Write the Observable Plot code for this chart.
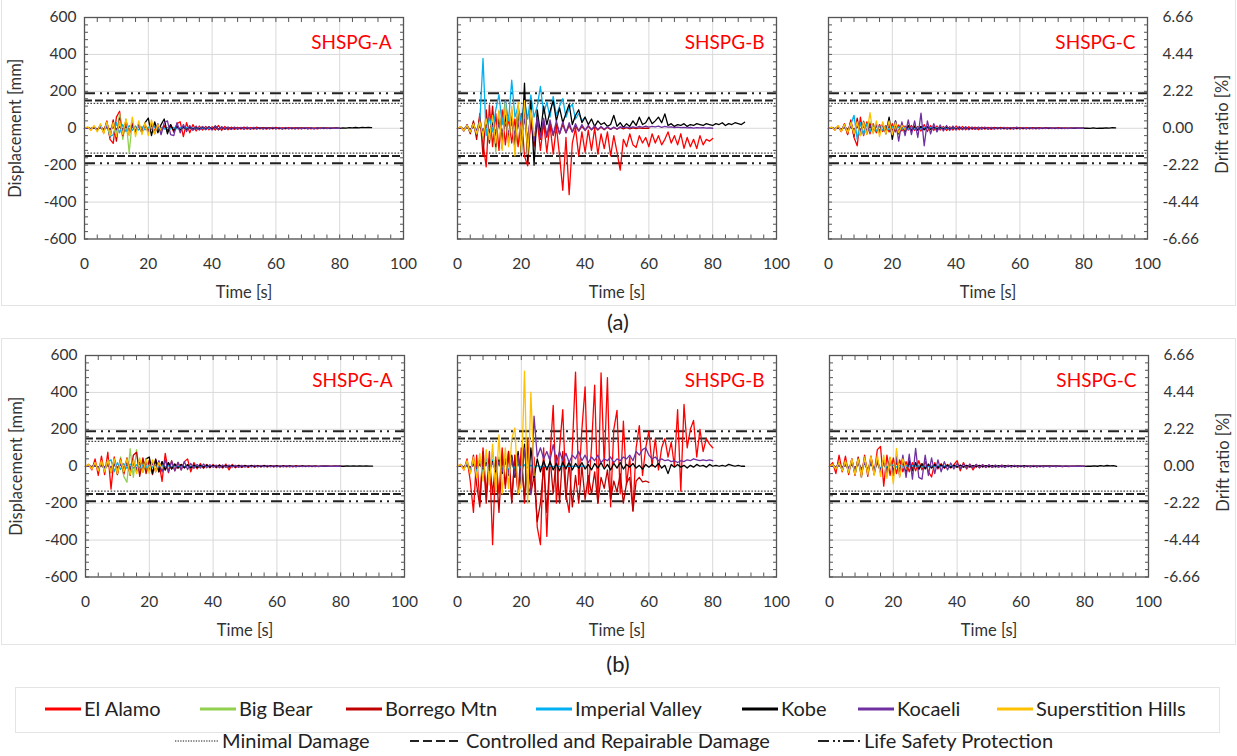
<!DOCTYPE html>
<html><head><meta charset="utf-8">
<script src="https://cdn.jsdelivr.net/npm/d3@7"></script>
<script src="https://cdn.jsdelivr.net/npm/@observablehq/plot@0.6"></script>
<style>
body{margin:0;background:#fff;}
#root{position:relative;width:1237px;height:756px;overflow:hidden;background:#fff;font-family:Lato,sans-serif;}
.pnl{position:absolute;}
.box{position:absolute;border:1px solid #e4e4e4;box-sizing:border-box;}
.cap{position:absolute;font-size:22px;color:#222;transform:translate(-50%,-50%);}
</style></head><body><div id="root"></div>
<script>
// ---------- data ----------
const earthquakes = ["El Alamo","Big Bear","Borrego Mtn","Imperial Valley","Kobe","Kocaeli","Superstition Hills"];
const eqColors = ["#FF0000","#92D050","#C00000","#00B0F0","#000000","#7030A0","#FFC000"];
const timeStep = 1; // s between samples
const xTicks = [0,20,40,60,80,100];
const yTicks = [-600,-400,-200,0,200,400,600];
const driftTickLabels = ["-6.66","-4.44","-2.22","0.00","2.22","4.44","6.66"];
const limitNames = ["Minimal Damage","Controlled and Repairable Damage","Life Safety Protection"];
const limitValues = [135,150,190];
const panelNames = ["SHSPG-A","SHSPG-B","SHSPG-C"];

// Row (a), SHSPG-A
const a_A_ElAlamo = [0,4,-8,10,-12,18,-25,40,-60,-82,60,92,-50,45,-35,30,-25,20,-22,18,-15,14,-12,10,-12,15,-18,20,-22,25,35,-45,30,-25,20,-15,12,-10,10,-8,8,-10,15,-12,10,-8,6,-6,5,-5,6,-5,4,-5,6,-4,4,-5,3,-4,5,-4,3,-3,4,-3,3,-4,3,-2,3,-3,2,-3,2,-2,2,-2,2,-1,0];
const a_A_BigBear = [0,3,-6,8,-10,15,-20,30,-45,40,-35,80,-60,50,-133,40,-30,25,-15,10,-5];
const a_A_Borrego = [0,3,-5,8,-12,15,-20,35,-50,45,-70,55,-40,35,-30,25,-20,18,-15,12,-10,15,-20,18,-15,12,-10,10,-12,10,-8,8,-6,7,-6,5,-5,6,-4,4,-4,3,-3,4,-3,3,-2,3,-2,2,-2,2,-2,2,-1,1,-1,1,-1,1,0];
const a_A_Imperial = [0,2,-4,6,-8,10,-15,20,-45,-35,30,-25,20,-18,15,-12,12,-10,8,-8,6,-6,8,-6,5,-5,4,-4,5,-4,3,-3,3,-2,2,-2,2,-1,1,-1,0];
const a_A_Kobe = [0,1,-2,2,-3,3,-4,5,-5,6,-6,8,-8,10,-10,12,-15,20,-25,30,55,-40,35,-25,20,50,-30,20,-15,12,-10,8,-8,6,-6,5,-5,6,-5,8,-6,12,-8,6,-5,5,-4,4,-4,3,-3,4,-3,3,-3,3,-2,3,-2,2,-2,2,-3,2,-2,2,-2,3,-2,2,-2,2,-2,2,-1,2,-1,1,-1,2,-1,2,1,3,2,4,2,5,3,4,3];
const a_A_Kocaeli = [0,1,-2,3,-3,4,-5,6,-6,8,-8,10,-10,12,-12,10,-10,12,-15,15,-20,25,-30,25,-35,30,40,-35,-40,30,-25,20,-18,15,-12,12,-10,10,-8,8,-10,12,-8,8,-6,6,-7,6,-5,5,-5,6,-5,5,-4,4,-5,4,-4,5,-4,4,-3,4,-3,3,-4,3,-3,3,-3,2,-3,2,-2,2,-2,2,-1,1,0];
const a_A_Superstition = [0,8,-12,15,-20,25,-30,35,-40,30,-45,40,-35,50,-40,60,-45,40,-35,30,-40,45,-30,20,-10];

// Row (a), SHSPG-B
const a_B_ElAlamo = [0,5,-10,15,-20,30,-40,60,-80,-209,127,-100,80,-120,100,-90,60,-80,50,-100,80,-150,-204,50,-100,40,-120,30,-130,20,-140,10,-150,-336,-50,-360,-80,0,-150,-20,-130,-10,-120,0,-140,-30,-110,-20,-150,-40,-130,-227,-60,-100,-30,-90,-104,-40,-80,-50,-100,-30,-80,-40,-90,-60,-20,-80,-40,-90,-30,-109,-50,-100,-60,-110,-40,-90,-60,-70,-55];
const a_B_BigBear = [0,5,-10,15,-20,30,-40,50,-60,70,-80,60,-127,80,-70,60,-50,40,-30,20,-10];
const a_B_Borrego = [0,8,-15,20,-30,40,-60,80,-150,100,-80,120,-100,90,-110,150,-80,100,-120,80,-100,120,-150,60,-80,50,-60,40,-50,30,-40,25,-30,20,-25,15,-20,12,-15,10,-12,10,-8,8,-10,6,-8,5,-6,4,-5,4,-3,3,-3,2,-2,2,-1,1,0];
const a_B_Imperial = [0,5,-10,15,-20,20,-30,40,378,-40,60,-20,100,182,20,150,40,260,60,120,30,150,50,180,60,120,227,80,140,60,173,70,120,160,60,110,130,50,80,40,60];
const a_B_Kobe = [0,2,-3,5,-5,8,-10,12,-15,20,-25,30,-40,50,-60,70,-60,80,-100,120,-150,245,-182,150,-200,100,-30,120,20,90,150,40,110,30,80,130,20,70,100,30,60,20,50,10,40,20,30,10,20,70,10,30,5,25,10,40,15,60,20,30,60,25,40,60,30,78,15,25,10,20,15,25,10,20,15,25,20,15,25,20,15,25,20,30,15,25,20,30,25,20,33];
const a_B_Kocaeli = [0,2,-3,4,-5,6,-8,10,-10,12,-12,15,-15,18,-20,22,-25,30,-35,40,-45,50,-60,80,-70,60,-50,55,-40,45,-35,40,-30,35,-25,30,-20,25,-15,20,-10,15,-8,12,-6,10,-5,8,-5,6,-4,8,3,6,2,8,4,10,5,12,6,10,8,12,5,10,6,8,4,6,3,5,2,4,1,3,2,3,1,2,0];
const a_B_Superstition = [0,8,-12,15,-20,25,-30,35,-40,50,-60,70,-80,100,-120,136,-100,120,-150,140,-130,150,-140,100,-40];

// Row (a), SHSPG-C
const a_C_ElAlamo = [0,5,-10,12,-18,25,-35,45,-50,-95,60,-40,35,-30,25,-25,20,-18,15,-20,25,-20,18,-15,12,-10,15,-12,10,-15,20,-18,15,-12,12,-10,10,-12,8,-10,12,-8,10,-8,8,-6,6,-8,6,-5,5,-6,5,-4,5,-4,4,-5,4,-3,4,-3,4,-3,3,-3,3,-2,3,-2,2,-2,3,-2,2,-2,2,-1,1,-1,0];
const a_C_BigBear = [0,3,-5,8,-10,12,-15,20,-25,30,-35,40,-30,35,-25,20,-18,15,-10,8,-4];
const a_C_Borrego = [0,4,-6,10,-15,20,-30,40,-45,55,-40,35,-30,25,-20,18,-15,15,-12,10,-10,12,-15,12,-10,10,-8,8,-10,8,-6,6,-5,6,-5,4,-4,5,-4,3,-3,4,-3,3,-3,2,-2,3,-2,2,-2,2,-1,2,-1,1,-1,1,-1,1,0];
const a_C_Imperial = [0,2,-4,6,-8,12,-15,20,70,-60,30,-35,25,-20,18,-15,12,-10,10,-8,8,-6,6,-5,5,-5,4,-4,4,-3,3,-3,3,-2,2,-2,2,-1,1,-1,0];
const a_C_Kobe = [0,1,-2,2,-3,4,-5,6,-6,8,-8,10,-10,12,-15,15,-20,25,-30,60,-60,40,-30,25,-20,15,-15,12,-10,10,-8,8,-7,6,-6,5,-5,6,-5,4,-5,4,-4,5,-4,3,-3,4,-3,3,-3,3,-2,3,-2,2,-3,2,-2,2,-2,2,-2,2,-1,2,-1,1,-1,2,-1,1,-1,1,-1,1,-1,1,0,1,0,1,-1,2,-1,1,0,2,1,3,2];
const a_C_Kocaeli = [0,1,-2,3,-4,5,-6,8,-8,10,-10,12,-12,15,-15,18,-18,20,-25,30,-35,40,-70,35,-40,45,-35,40,-50,82,-95,40,-30,25,-20,18,-15,15,-12,12,-10,10,-8,8,-8,7,-6,6,-5,6,-5,5,-5,4,-4,5,-4,4,-5,6,-4,4,-3,3,-3,3,-3,2,-2,3,-2,2,-2,2,-2,1,-1,2,-1,1,0];
const a_C_Superstition = [0,6,-10,15,-18,20,-25,30,-30,35,-40,30,-35,85,-30,40,-45,35,-30,40,-35,30,-25,15,-8];

// Row (b), SHSPG-A
const b_A_ElAlamo = [0,10,-20,40,-50,55,-45,76,-124,50,-40,35,-45,30,-25,35,-30,25,-20,30,-25,20,-30,25,-82,70,-35,30,-25,20,-20,25,40,-30,20,-15,15,-12,10,-8,10,-8,8,-10,12,-20,10,-8,6,-6,5,-6,5,-5,4,-4,5,-4,3,-3,4,-3,3,-3,2,-3,3,-2,2,-2,2,-2,2,-2,1,-1,1,-1,1,-1,0];
const b_A_BigBear = [0,4,-8,10,-15,20,-25,30,-35,40,-45,50,-55,-87,95,-60,90,-40,30,-20,10];
const b_A_Borrego = [0,5,-8,12,-15,20,-25,30,-35,40,-45,40,-35,45,-50,60,76,-55,45,-40,35,-45,40,-30,25,-20,18,-15,12,-10,10,-8,8,-8,6,-6,5,-5,6,-4,4,-4,3,-4,3,-3,3,-2,3,-2,2,-2,2,-2,1,-1,1,-1,1,-1,0];
const b_A_Imperial = [0,3,-5,8,-10,12,-20,25,35,-30,20,-18,15,-12,12,-10,8,-8,6,-6,5,-5,4,-4,4,-3,3,-3,3,-2,2,-2,2,-2,1,-1,1,-1,1,-1,0];
const b_A_Kobe = [0,1,-2,3,-3,4,-5,6,-6,8,-8,10,-12,15,-15,20,-25,30,-30,40,50,-40,35,-30,25,-20,20,-15,12,-10,10,-8,8,-8,6,-6,5,-5,6,-5,4,-4,5,-4,4,-3,3,-4,3,-3,3,-2,3,-2,2,-2,3,-2,2,-2,2,-2,2,-1,2,-1,1,-1,2,-1,1,-1,1,-1,1,0,1,-1,1,0,1,0,2,1,2,1,2,1,2,1,1];
const b_A_Kocaeli = [0,1,-2,2,-3,3,-4,5,-5,6,-6,8,-8,10,-10,12,-12,15,-15,18,-20,22,-25,30,-30,35,-30,28,-25,22,-20,25,-18,15,-12,10,-10,12,-8,8,-6,6,-8,7,-6,6,-5,5,-6,5,-5,4,-4,5,-4,4,-3,4,-3,3,-4,3,-3,3,-3,2,-3,2,-2,2,-2,2,-2,1,-1,2,-1,1,-1,1,0];
const b_A_Superstition = [0,10,-15,20,-25,30,-30,35,-35,40,-40,35,-30,40,-45,35,-40,45,-35,40,-40,35,-30,20,-10];

// Row (b), SHSPG-B
const b_B_ElAlamo = [0,10,-20,40,-80,-250,60,-200,100,-150,80,-425,50,-150,100,-120,80,-180,60,-150,100,-200,150,-100,50,-330,-425,100,-380,50,330,-200,100,307,-150,-250,100,510,-100,200,430,-150,100,440,-200,506,0,480,-220,200,303,-150,244,-100,50,-240,100,220,-50,100,190,0,150,-20,100,150,50,130,0,307,-135,335,100,200,248,50,200,80,150,120,100];
const b_B_BigBear = [0,5,-10,15,-20,25,-30,40,-50,60,-70,80,-60,50,-40,35,-30,25,-20,15,-10];
const b_B_Borrego = [0,5,-10,20,-40,60,-100,-220,80,-200,40,-150,30,-250,50,-100,80,-200,60,-150,40,-180,100,-150,-50,-300,-200,0,-250,50,-150,60,-200,80,-180,20,-220,-50,-200,0,-180,-50,-150,-30,-200,-60,-120,-20,-180,-80,-140,-40,-200,-90,-60,-244,-80,-60,-85,-80,-87];
const b_B_Imperial = [0,5,-10,15,-20,25,-30,40,-40,50,-40,35,-30,30,-25,20,-20,15,-12,10,-10,8,-8,6,-6,5,-5,4,-4,3,-3,3,-2,2,-2,1,-1,1,-1,1,0];
const b_B_Kobe = [0,2,-3,5,-5,8,-10,12,-15,20,-20,25,-30,35,-40,40,-50,60,-60,80,-100,120,-150,100,-60,40,-30,30,-20,25,-20,15,-25,20,-15,25,-20,15,-10,20,-15,10,-20,15,-10,20,-15,10,-20,15,-10,20,-15,10,-5,15,-10,5,-15,10,-5,10,-5,15,-10,5,-40,10,-5,10,-5,5,-10,5,-5,10,0,5,-5,10,0,5,0,5,0,10,5,0,5,0,0];
const b_B_Kocaeli = [0,2,-3,4,-5,6,-8,10,-10,12,-15,18,-20,25,-30,35,-40,45,-50,60,-80,100,-100,-154,271,50,100,40,80,30,117,20,80,30,70,20,60,40,80,30,60,20,50,30,60,20,40,30,50,20,40,30,50,40,60,30,80,60,90,100,60,40,50,30,40,30,35,25,30,20,30,25,35,30,40,35,30,35,30,35,30];
const b_B_Superstition = [0,10,-20,30,-40,50,-60,70,-80,90,-100,120,-140,170,-150,100,-120,150,208,-150,-100,515,-200,401,-50];

// Row (b), SHSPG-C
const b_C_ElAlamo = [0,20,-40,60,-30,55,-45,40,-50,45,-60,60,-55,50,-40,90,107,-108,60,-50,45,-40,35,-30,25,-30,20,-25,30,-20,25,-30,-58,20,-15,15,-12,10,-10,8,30,-25,20,-15,12,-20,10,-8,8,-6,6,-6,5,-5,6,-4,5,-4,4,-4,3,-4,3,-3,4,-3,3,-2,3,-2,2,-2,2,-2,1,-2,1,-1,1,-1,0];
const b_C_BigBear = [0,5,-10,15,-20,25,-30,35,-40,45,-60,50,-45,40,-35,30,-25,20,-15,10,-5];
const b_C_Borrego = [0,8,-12,20,-25,30,-35,40,-45,50,-50,45,-40,55,-45,40,-35,30,-30,25,-20,18,-15,15,-12,12,-10,10,-8,8,-8,6,-6,6,-5,5,-5,4,-4,4,-3,4,-3,3,-3,3,-2,3,-2,2,-2,2,-2,1,-1,1,-1,1,-1,1,0];
const b_C_Imperial = [0,5,-8,12,-15,20,-25,30,-35,30,-25,20,-18,15,-12,12,-10,8,-8,6,6,-5,5,-4,4,-4,3,-3,3,-3,2,-2,2,-2,2,-1,1,-1,1,-1,0];
const b_C_Kobe = [0,2,-3,4,-5,6,-8,10,-12,15,-15,18,-20,22,-25,28,-30,35,-40,45,-50,50,-45,40,-35,30,-25,20,-18,15,-15,12,-10,10,-8,8,-7,6,-6,5,-5,6,-5,5,-4,4,-4,5,-4,3,-3,4,-3,3,-3,3,-2,3,-2,2,-2,3,-2,2,-2,2,-2,2,-1,2,-1,2,-1,1,-1,1,-1,1,0,1,-1,1,0,2,0,3,1,4,2,3,-1];
const b_C_Kocaeli = [0,2,-3,4,-5,6,-8,10,-12,15,-15,18,-20,22,-25,28,-30,35,-35,40,-45,50,-55,60,-60,65,-70,97,-60,-70,60,-50,45,-40,35,-30,25,-20,18,-15,15,-12,12,-10,10,-8,10,-8,8,-7,8,-6,6,-5,5,-6,5,-4,5,-4,4,-4,3,-3,4,-3,3,-3,2,-3,2,-2,2,-2,2,-1,1,-1,1,-1,0];
const b_C_Superstition = [0,10,-15,20,-25,30,-35,40,-45,40,-50,45,-40,55,-50,60,-55,60,-65,50,-95,97,-60,40,-15];

// ---------- layout ----------
const panels = [
  [a_A_ElAlamo,a_A_BigBear,a_A_Borrego,a_A_Imperial,a_A_Kobe,a_A_Kocaeli,a_A_Superstition],
  [a_B_ElAlamo,a_B_BigBear,a_B_Borrego,a_B_Imperial,a_B_Kobe,a_B_Kocaeli,a_B_Superstition],
  [a_C_ElAlamo,a_C_BigBear,a_C_Borrego,a_C_Imperial,a_C_Kobe,a_C_Kocaeli,a_C_Superstition],
  [b_A_ElAlamo,b_A_BigBear,b_A_Borrego,b_A_Imperial,b_A_Kobe,b_A_Kocaeli,b_A_Superstition],
  [b_B_ElAlamo,b_B_BigBear,b_B_Borrego,b_B_Imperial,b_B_Kobe,b_B_Kocaeli,b_B_Superstition],
  [b_C_ElAlamo,b_C_BigBear,b_C_Borrego,b_C_Imperial,b_C_Kobe,b_C_Kocaeli,b_C_Superstition]
];
const frameW = 319, frameH = 221.5;
const rowTops = [16.7, 354.5];
const colLefts = [[84.3,456.7,828.3],[85.3,457.3,829.3]];
const M = {l: 90, r: 100, t: 14, b: 72};
const FONT = "Lato, sans-serif";
const TXT = "#333";

const root = document.getElementById("root");

function addBox(x,y,w,h){const d=document.createElement("div");d.className="box";Object.assign(d.style,{left:x+"px",top:y+"px",width:w+"px",height:h+"px"});root.appendChild(d);}
addBox(1,-2,1235,308);
addBox(1,338,1235,307);

const limitStyles = [
  {strokeDasharray:"1.6,1.6", strokeWidth:1.4, stroke:"#444"},
  {strokeDasharray:"8,3", strokeWidth:2, stroke:"#222"},
  {strokeDasharray:"11,5,2,5,2,6", strokeWidth:2, stroke:"#222"}
];

panels.forEach((series, idx) => {
  const row = Math.floor(idx/3), col = idx%3;
  const rows = [];
  series.forEach((vals,k) => vals.forEach((v,i) => rows.push({eq: earthquakes[k], t: i*timeStep, d: v})));
  const minorX = d3.range(0,101,4), minorY = d3.range(-600,601,40);
  const marks = [
    Plot.gridX(xTicks, {stroke:"#d9d9d9", strokeOpacity:1}),
    Plot.gridY(yTicks, {stroke:"#d9d9d9", strokeOpacity:1}),
    Plot.axisX(minorX, {anchor:"bottom", tickSize:-4, tickFormat:()=>"", label:null, stroke:"#555"}),
    Plot.axisX(minorX, {anchor:"top", tickSize:-4, tickFormat:()=>"", label:null, stroke:"#555"}),
    Plot.axisY(minorY, {anchor:"left", tickSize:-4, tickFormat:()=>"", label:null, stroke:"#555"}),
    Plot.axisY(minorY, {anchor:"right", tickSize:-4, tickFormat:()=>"", label:null, stroke:"#555"}),
    Plot.axisX(xTicks, {anchor:"bottom", tickSize:0, tickPadding:19, tickFormat:d=>String(d), label:null, fontSize:15.5, fill:TXT}),
  ];
  limitValues.forEach((v,j) => marks.push(Plot.ruleY([v,-v], limitStyles[j])));
  marks.push(Plot.lineY(rows, {x:"t", y:"d", z:"eq", stroke:"eq", strokeWidth:1.3}));
  marks.push(Plot.frame({stroke:"#555", strokeWidth:1.3}));
  marks.push(Plot.text([panelNames[col]], {frameAnchor:"top-right", dx:-12, dy:25, textAnchor:"end", lineAnchor:"middle", fill:"#FF0000", fontSize:19}));
  marks.push(Plot.text(["Time [s]"], {frameAnchor:"bottom", dy:54, textAnchor:"middle", lineAnchor:"middle", fill:TXT, fontSize:16.5}));
  if (col === 0) {
    marks.push(Plot.axisY(yTicks, {anchor:"left", tickSize:0, tickPadding:8, tickFormat:d=>String(d), label:null, fontSize:15.5, fill:TXT}));
    marks.push(Plot.text(["Displacement [mm]"], {frameAnchor:"left", dx:-69, rotate:-90, textAnchor:"middle", lineAnchor:"middle", fill:TXT, fontSize:16.5}));
  }
  if (col === 2) {
    marks.push(Plot.axisY(yTicks, {anchor:"right", tickSize:0, tickPadding:15, tickFormat:d=>driftTickLabels[yTicks.indexOf(d)], label:null, fontSize:15.5, fill:TXT}));
    marks.push(Plot.text(["Drift ratio [%]"], {frameAnchor:"right", dx:75, dy:-4, rotate:-90, textAnchor:"middle", lineAnchor:"middle", fill:TXT, fontSize:16.5}));
  }
  const svg = Plot.plot({
    width: frameW + M.l + M.r, height: frameH + M.t + M.b,
    marginLeft: M.l, marginRight: M.r, marginTop: M.t, marginBottom: M.b,
    x: {domain:[0,100]}, y: {domain:[-600,600]},
    color: {domain: earthquakes, range: eqColors},
    style: {background:"transparent", overflow:"visible", fontFamily: FONT},
    marks
  });
  svg.classList.add("pnl");
  svg.style.position = "absolute";
  svg.style.left = (colLefts[row][col] - M.l) + "px";
  svg.style.top = (rowTops[row] - M.t) + "px";
  root.appendChild(svg);
});

// row captions
[["(a)",618,321],["(b)",618,663]].forEach(([t,x,y])=>{
  const d=document.createElement("div");d.className="cap";d.textContent=t;d.style.left=x+"px";d.style.top=y+"px";root.appendChild(d);
});

// legend
addBox(15,687,1205,46);
const legSvg = d3.create("svg").attr("width",1237).attr("height",80)
  .style("position","absolute").style("left","0px").style("top","680px").style("font-family",FONT);
const legendRow1X = [45,200,346,536,742,858,997];
const legendRow2X = [175,410,818];
earthquakes.forEach((e,i)=>{
  const x = legendRow1X[i], y = 29;
  legSvg.append("line").attr("x1",x).attr("x2",x+36).attr("y1",y).attr("y2",y).attr("stroke",eqColors[i]).attr("stroke-width",3);
  legSvg.append("text").attr("x",x+39).attr("y",y).attr("dy","0.35em").attr("font-size",20).attr("fill","#222").text(e);
});
const legSw = [[43,"1.3,1.3",1.3,"#666"],[52,"9,4",2,"#222"],[42,"11,4,2,3,2,3",2,"#222"]];
limitNames.forEach((n,i)=>{
  const x = legendRow2X[i], y = 61, [w,da,sw,c] = legSw[i];
  legSvg.append("line").attr("x1",x).attr("x2",x+w).attr("y1",y).attr("y2",y).attr("stroke",c).attr("stroke-width",sw).attr("stroke-dasharray",da);
  legSvg.append("text").attr("x",x+w+4).attr("y",y).attr("dy","0.35em").attr("font-size",20).attr("fill","#222").text(n);
});
root.appendChild(legSvg.node());
</script></body></html>
